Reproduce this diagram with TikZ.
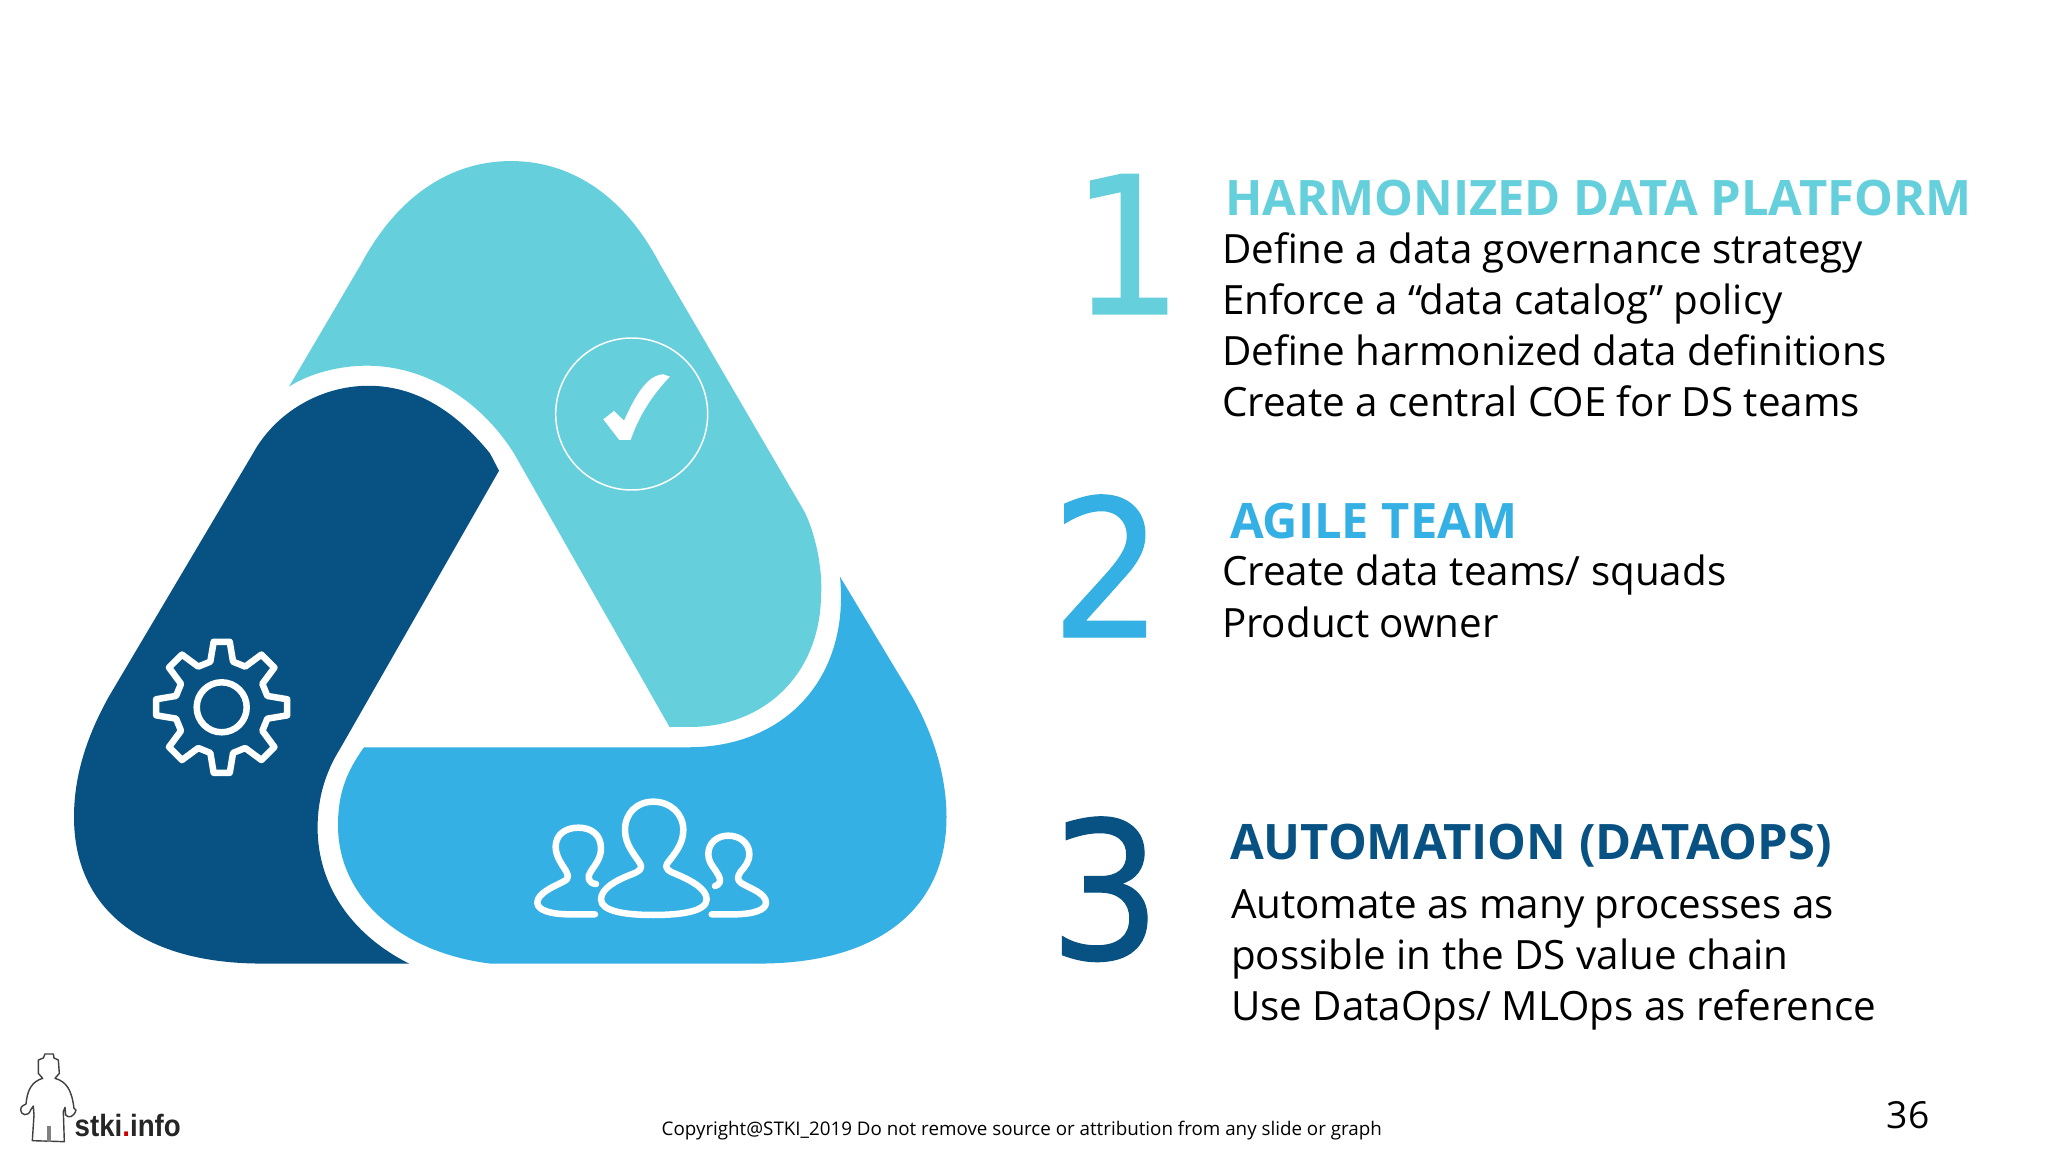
\documentclass[tikz,border=0pt]{standalone}
\usepackage{fontspec}
\setmainfont{Open Sans}
\definecolor{teal1}{HTML}{65D0DC}
\definecolor{blue1}{HTML}{35B0E4}
\definecolor{dark1}{HTML}{075282}
\newfontfamily\logofont{Liberation Sans}[FakeStretch=0.9]
\newfontfamily\digitfont{DejaVu Sans}[FakeStretch=0.92,FakeBold=0.6]
\tikzset{
 txt/.style={anchor=base west,inner sep=0pt,outer sep=0pt,text=black,font=\fontsize{11.47pt}{13pt}\selectfont},
 head/.style={anchor=base west,inner sep=0pt,outer sep=0pt,font=\fontsize{13.9pt}{16pt}\selectfont\bfseries},
 num/.style={anchor=base west,inner sep=0pt,outer sep=0pt,font=\digitfont\fontsize{54.5pt}{60pt}\selectfont},
 icon/.style={draw=white,line width=6.5pt*0.2845,line join=round,line cap=round},
 bands/.style={shift={(0,130)},yscale=0.9135,shift={(0,-130)}},
}
\begin{document}
\begin{tikzpicture}[x=0.01cm,y=-0.01cm]
\useasboundingbox (0,0) rectangle (2048,1152);
\fill[white] (0,0) rectangle (2048,1152);
\begin{scope}[bands]
% teal band
\fill[teal1] (289,411) -- (361,277) .. controls (397,203) and (450,164) .. (511,164) .. controls (572,164) and (625,203) .. (660,277) -- (804,547) .. controls (815,570) and (823,610) .. (821,640) .. controls (820,725) and (765,783.5) .. (690,783.5) -- (669.5,783.5) -- (514,484) .. controls (480,425) and (425,388) .. (367,388) .. controls (340,388) and (310,396) .. (289,411) -- cycle;
% dark band
\fill[dark1] (499,503) -- (490,484) .. controls (455,437) and (415,410) .. (368.5,410) .. controls (320,410) and (275,440) .. (253,484) -- (109,750) .. controls (85,797) and (74,840) .. (74,882) .. controls (74,985) and (145,1042.5) .. (262,1042.5) -- (409,1042.5) .. controls (350,1010) and (317.6,955) .. (317.6,894) .. controls (317.6,860) and (326,832) .. (340,807.5) -- cycle;
% blue band
\fill[blue1] (364,805.7) -- (690.5,805.7) .. controls (785,805) and (850,730) .. (840,619) -- (912,750) .. controls (935,795) and (946.5,840) .. (946.5,882) .. controls (946.5,985) and (875,1042.5) .. (759.4,1042.5) -- (490,1042.5) .. controls (400,1030) and (338,970) .. (338,891) .. controls (338,855) and (347,832) .. (364,805.7) -- cycle;
\end{scope}
% check
\draw[white,line width=0.42pt] (631.7,414) circle (76);
\begin{scope}[shift={(540,330)},scale=1/3]
\fill[white] (190,268) -- (222,243) -- (252,272) .. controls (285,200) and (320,135) .. (370,133) -- (390,140) .. controls (340,190) and (295,260) .. (272,330) -- (238,330) -- cycle;
\end{scope}
% gear
\begin{scope}[shift={(221.7,707.3)}]
\draw[icon] (0,0) circle (25);
\draw[icon] (90-14:47) -- (90-7:66) -- (90+7:66) -- (90+14:47)
 -- (135-15:47) -- (135-8:66) -- (135+8:66) -- (135+15:47)
 -- (180-14:47) -- (180-7:66) -- (180+7:66) -- (180+14:47)
 -- (225-15:47) -- (225-8:66) -- (225+8:66) -- (225+15:47)
 -- (270-14:47) -- (270-7:66) -- (270+7:66) -- (270+14:47)
 -- (315-15:47) -- (315-8:66) -- (315+8:66) -- (315+15:47)
 -- (0-14:47) -- (0-7:66) -- (0+7:66) -- (0+14:47)
 -- (45-15:47) -- (45-8:66) -- (45+8:66) -- (45+15:47) -- cycle;
\end{scope}
% people
\begin{scope}[shift={(520,780)},scale=1/3]
\draw[icon] (400,65) .. controls (350,65) and (315,100) .. (315,150) .. controls (315,195) and (345,225) .. (360,250) .. controls (370,268) and (355,275) .. (335,283) .. controls (290,300) and (243,325) .. (243,358) .. controls (243,395) and (320,405) .. (400,405) .. controls (480,405) and (560,395) .. (560,358) .. controls (560,325) and (510,300) .. (470,283) .. controls (450,275) and (432,268) .. (442,250) .. controls (460,225) and (490,195) .. (490,150) .. controls (490,100) and (450,65) .. (400,65) -- cycle;
\draw[icon] (225,403) -- (150,403) .. controls (90,403) and (52,390) .. (52,368) .. controls (52,340) and (100,320) .. (130,305) .. controls (150,295) and (145,285) .. (135,268) .. controls (120,245) and (107,225) .. (107,200) .. controls (107,165) and (135,143) .. (175,143) .. controls (215,143) and (243,165) .. (243,205) .. controls (243,235) and (225,255) .. (212,275) .. controls (200,290) and (205,310) .. (228,312);
\draw[icon] (575,403) -- (640,403) .. controls (700,403) and (738,390) .. (738,368) .. controls (738,340) and (690,325) .. (665,310) .. controls (650,300) and (652,290) .. (662,275) .. controls (675,260) and (688,245) .. (688,222) .. controls (688,190) and (660,167) .. (625,167) .. controls (590,167) and (565,190) .. (565,222) .. controls (565,250) and (585,265) .. (595,285) .. controls (605,300) and (600,315) .. (585,318);
\end{scope}
% texts
\node[num,text=teal1] (n1) at (1071,314) {1};
\node[num,text=blue1] (n2) at (1051,637) {2};
\node[num,text=dark1] (n3) at (1049,959) {3};
\node[head,text=teal1] (h1) at (1225,216) {HARMONIZED DATA PLATFORM};
\node[txt] (a1) at (1222,263.5) {Define a data governance strategy};
\node[txt] (a2) at (1222,314.5) {Enforce a “data catalog” policy};
\node[txt] (a3) at (1222,365.5) {Define harmonized data definitions};
\node[txt] (a4) at (1222,416.5) {Create a central COE for DS teams};
\node[head,text=blue1] (h2) at (1230,538.5) {AGILE TEAM};
\node[txt] (b1) at (1222,586) {Create data teams/ squads};
\node[txt] (b2) at (1222,637.5) {Product owner};
\node[head,text=dark1] (h3) at (1230,859.5) {AUTOMATION (DATAOPS)};
\node[txt] (c1) at (1231,918) {Automate as many processes as};
\node[txt] (c2) at (1231,969) {possible in the DS value chain};
\node[txt] (c3) at (1231,1020) {Use DataOps/ MLOps as reference};
\node[anchor=base west,inner sep=0pt,text=black,font=\fontsize{5.34pt}{7pt}\selectfont] (cp) at (661,1135) {Copyright@STKI\_2019 Do not remove source or attribution from any slide or graph};
\node[anchor=base west,inner sep=0pt,text=black,font=\fontsize{10.6pt}{12pt}\selectfont] (pg) at (1886,1128) {36};
% logo
\begin{scope}[shift={(0,1030)},scale=1/3]
\draw[black!75,line width=0.4pt,line join=round] (135,72) -- (160,72) -- (162,84) -- (175,90) -- (178,130) -- (165,145) .. controls (200,155) and (215,180) .. (222,235) -- (228,240) .. controls (222,262) and (205,265) .. (197,255) -- (195,232) -- (190,245) -- (193,335) -- (97,332) -- (102,255) -- (100,228) -- (92,240) .. controls (85,262) and (62,255) .. (62,240) .. controls (62,228) and (72,225) .. (78,222) .. controls (82,180) and (95,155) .. (128,145) -- (115,130) -- (115,90) -- (130,84) -- cycle;
\draw[black!50,line width=1.2pt] (147,288) -- (147,335);
\end{scope}
\node[anchor=base west,inner sep=0pt,font=\logofont\fontsize{8.75pt}{10pt}\selectfont\bfseries,text=black!85] (lg) at (74,1136) {stki\textcolor{red!80!black}{.}info};
\end{tikzpicture}
\end{document}
